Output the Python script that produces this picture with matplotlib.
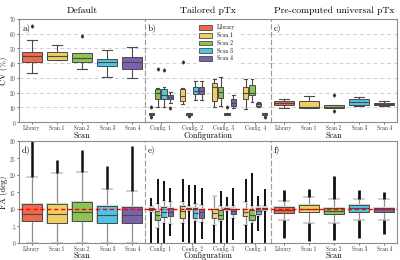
import matplotlib
matplotlib.use("Agg")
import matplotlib.pyplot as plt
import matplotlib.patheffects as pe
from matplotlib.patches import Patch

plt.rcParams['font.family'] = ['cmr10', 'DejaVu Serif']
plt.rcParams['axes.formatter.use_mathtext'] = True
plt.rcParams['mathtext.fontset'] = 'cm'

# ---------------- categories ----------------
scans = ["Library", "Scan 1", "Scan 2", "Scan 3", "Scan 4"]
configs = ["Config. 1", "Config. 2", "Config. 3", "Config. 4"]
colors = ["#EE6A4A", "#EFCF63", "#8DC255", "#4FC3E4", "#7B62AE"]
titles = ["Default", "Tailored pTx", "Pre-computed universal pTx"]

# ---------------- a) CV, default ----------------
cv_def_q1 = [41.0, 42.4, 40.8, 37.9, 36.1]
cv_def_med = [44.6, 45.0, 43.3, 40.5, 41.0]
cv_def_q3 = [47.6, 47.6, 46.6, 42.9, 44.2]
cv_def_lo = [33.0, 42.0, 36.3, 30.5, 29.8]
cv_def_hi = [55.4, 52.0, 47.0, 48.9, 50.9]
cv_def_fliers = [[65.3], [], [58.5], [], []]

# ---------------- b) CV, tailored (rows: config, cols: scan 1..4) ----------------
cv_tail_q1 = [[5.0, 15.9, 15.9, 15.5], [14.1, 5.0, 18.8, 18.8],
              [14.1, 16.1, 5.0, 10.8], [15.9, 18.4, 10.8, 5.0]]
cv_tail_med = [[5.5, 19.5, 18.6, 16.8], [17.7, 5.5, 21.3, 21.3],
               [24.0, 20.4, 5.3, 13.2], [19.5, 20.0, 11.9, 5.5]]
cv_tail_q3 = [[6.0, 22.2, 22.2, 18.2], [22.2, 6.0, 23.5, 23.5],
              [26.2, 24.0, 5.8, 15.9], [24.0, 24.9, 13.0, 6.0]]
cv_tail_lo = [[4.8, 10.5, 9.9, 13.2], [12.1, 4.8, 15.0, 15.0],
              [10.5, 11.0, 4.8, 9.4], [8.7, 13.7, 10.3, 4.8]]
cv_tail_hi = [[6.3, 23.0, 23.5, 20.6], [22.9, 6.3, 28.0, 28.1],
              [29.4, 30.5, 6.0, 18.2], [29.0, 29.0, 13.5, 6.3]]
cv_tail_fliers = [[[3.6, 10.3], [36.1], [35.2], [9.6]],
                  [[40.6], [3.8], [], []],
                  [[], [], [10.5], []],
                  [[], [], [], [3.2]]]

# ---------------- c) CV, universal ----------------
cv_uni_q1 = [11.4, 9.8, 9.6, 11.4, 11.4]
cv_uni_med = [13.0, 10.1, 10.5, 13.7, 12.3]
cv_uni_q3 = [14.3, 14.6, 11.4, 15.9, 13.0]
cv_uni_lo = [9.4, 9.6, 9.2, 11.0, 11.0]
cv_uni_hi = [15.9, 18.0, 11.6, 17.3, 14.1]
cv_uni_fliers = [[], [], [18.4, 7.6], [], []]

# ---------------- d) FA, default ----------------
fa_def_q1 = [6.4, 5.8, 6.4, 5.9, 5.9]
fa_def_med = [8.6, 8.4, 9.1, 8.3, 8.3]
fa_def_q3 = [11.5, 11.5, 12.1, 10.9, 10.6]
fa_def_lo = [0.0, 0.0, 0.0, 0.0, 0.0]
fa_def_hi = [19.4, 20.6, 20.8, 16.0, 15.3]
fa_def_min = [0.0, 0.0, 0.0, 0.0, 0.0]
fa_def_max = [31.0, 24.5, 27.4, 22.6, 28.6]

# ---------------- e) FA, tailored (rows: config, cols: scan 1..4) ----------------
fa_tail_q1 = [[9.7, 6.8, 7.7, 7.8], [7.3, 9.9, 7.5, 7.3],
              [7.3, 7.0, 9.9, 8.5], [7.8, 6.8, 8.5, 9.9]]
fa_tail_med = [[10.1, 8.1, 9.0, 9.0], [9.4, 10.1, 8.7, 9.2],
               [8.7, 8.2, 10.1, 9.4], [9.2, 8.1, 9.4, 10.1]]
fa_tail_q3 = [[10.4, 9.4, 10.5, 10.3], [10.8, 10.3, 10.4, 9.9],
              [9.9, 9.7, 10.3, 9.9], [10.1, 9.7, 10.3, 10.3]]
fa_tail_lo = [[9.0, 4.5, 5.9, 5.6], [5.9, 9.4, 6.4, 6.1],
              [5.4, 6.4, 9.4, 7.3], [5.4, 5.9, 7.8, 9.4]]
fa_tail_hi = [[11.0, 11.5, 12.5, 12.0], [12.0, 10.9, 11.6, 11.1],
              [13.9, 11.0, 10.9, 11.0], [12.0, 11.0, 11.0, 10.9]]
fa_tail_min = [[0.0, 0.0, 0.0, 2.1], [0.2, 0.0, 0.0, 1.1],
               [0.0, 0.0, 0.0, 0.9], [0.0, 0.0, 3.5, 0.0]]
fa_tail_max = [[13.2, 18.7, 18.2, 16.3], [18.9, 17.2, 17.2, 16.3],
               [13.9, 15.3, 13.5, 16.3], [18.7, 20.5, 13.9, 15.9]]

# ---------------- f) FA, universal ----------------
fa_uni_q1 = [8.7, 9.0, 8.4, 9.2, 9.0]
fa_uni_med = [9.7, 10.1, 9.4, 10.3, 9.9]
fa_uni_q3 = [10.6, 11.3, 10.3, 11.1, 10.4]
fa_uni_lo = [6.8, 5.9, 5.9, 6.8, 6.8]
fa_uni_hi = [12.5, 13.5, 13.0, 13.0, 13.0]
fa_uni_min = [1.6, 0.7, 0.9, 1.6, 2.6]
fa_uni_max = [15.6, 16.0, 19.6, 15.5, 15.0]

target_fa = 10.0

# ---------------- figure ----------------
fig = plt.figure(figsize=(4.0, 2.6), dpi=100)
L, R = 19 / 400, 397 / 400
W = (R - L) / 3
TOP_Y0, TOP_Y1 = 19, 122
BOT_Y0, BOT_Y1 = 141, 243
top_row = (1 - TOP_Y1 / 260, (TOP_Y1 - TOP_Y0) / 260)
bot_row = (1 - BOT_Y1 / 260, (BOT_Y1 - BOT_Y0) / 260)

axes = [[None] * 3, [None] * 3]
for r, (b, h) in enumerate([top_row, bot_row]):
    for c in range(3):
        axes[r][c] = fig.add_axes([L + c * W, b, W, h])

EDGE = "#4a4a4a"
SP = "#8c8c8c"


def box_stats(q1, med, q3, lo, hi, fl=None):
    out = []
    for i in range(len(q1)):
        out.append(dict(q1=q1[i], med=med[i], q3=q3[i], whislo=lo[i], whishi=hi[i],
                        fliers=(fl[i] if fl is not None else [])))
    return out


def draw(ax, stats, pos, cols, width, bottom=False):
    halo = [pe.Stroke(linewidth=1.6, foreground="#d4d4d4"), pe.Normal()] if bottom else None
    res = ax.bxp(stats, positions=pos, widths=width, patch_artist=True,
                 boxprops=dict(edgecolor=EDGE, linewidth=0.7, zorder=3),
                 medianprops=dict(color=EDGE, linewidth=0.8, zorder=4),
                 whiskerprops=dict(color=("#8f8f8f" if bottom else EDGE),
                                   linewidth=(0.9 if bottom else 0.8), zorder=2),
                 capprops=dict(color=("#cccccc" if bottom else EDGE),
                               linewidth=(1.3 if bottom else 0.8), zorder=2),
                 flierprops=dict(marker="d", markersize=1.6, markerfacecolor="#333333",
                                 markeredgecolor="#333333", linestyle="none"),
                 showfliers=True, manage_ticks=False)
    for patch, col in zip(res["boxes"], cols):
        patch.set_facecolor(col)
        if halo:
            patch.set_path_effects(halo)
    return res


# --- top row ---
xs5 = list(range(len(scans)))
draw(axes[0][0], box_stats(cv_def_q1, cv_def_med, cv_def_q3, cv_def_lo, cv_def_hi, cv_def_fliers),
     xs5, colors, 0.8)
draw(axes[0][2], box_stats(cv_uni_q1, cv_uni_med, cv_uni_q3, cv_uni_lo, cv_uni_hi, cv_uni_fliers),
     xs5, colors, 0.8)

offsets = [-0.3, -0.1, 0.1, 0.3]
for s in range(4):
    pos = [ci + offsets[s] for ci in range(len(configs))]
    col_s = [colors[s + 1]] * len(configs)
    st = box_stats([cv_tail_q1[c][s] for c in range(4)], [cv_tail_med[c][s] for c in range(4)],
                   [cv_tail_q3[c][s] for c in range(4)], [cv_tail_lo[c][s] for c in range(4)],
                   [cv_tail_hi[c][s] for c in range(4)], [cv_tail_fliers[c][s] for c in range(4)])
    draw(axes[0][1], st, pos, col_s, 0.17)

# --- bottom row ---
draw(axes[1][0], box_stats(fa_def_q1, fa_def_med, fa_def_q3, fa_def_lo, fa_def_hi), xs5, colors, 0.8, True)
axes[1][0].vlines(xs5, fa_def_hi, fa_def_max, color="#111111", lw=1.8, zorder=2.5)
draw(axes[1][2], box_stats(fa_uni_q1, fa_uni_med, fa_uni_q3, fa_uni_lo, fa_uni_hi), xs5, colors, 0.8, True)
axes[1][2].vlines(xs5, fa_uni_hi, fa_uni_max, color="#111111", lw=2.0, zorder=2.5)
axes[1][2].vlines(xs5, fa_uni_min, fa_uni_lo, color="#111111", lw=2.0, zorder=2.5)

for s in range(4):
    pos = [ci + offsets[s] for ci in range(len(configs))]
    col_s = [colors[s + 1]] * len(configs)
    g = lambda arr: [arr[c][s] for c in range(4)]
    st = box_stats(g(fa_tail_q1), g(fa_tail_med), g(fa_tail_q3), g(fa_tail_lo), g(fa_tail_hi))
    draw(axes[1][1], st, pos, col_s, 0.17, True)
    axes[1][1].vlines(pos, g(fa_tail_hi), g(fa_tail_max), color="#111111", lw=1.4, zorder=2.5)
    axes[1][1].vlines(pos, g(fa_tail_min), g(fa_tail_lo), color="#111111", lw=1.4, zorder=2.5)

# --- styling ---
labels = [["a)", "b)", "c)"], ["d)", "e)", "f)"]]
for r in range(2):
    for c in range(3):
        ax = axes[r][c]
        if c == 1:
            ax.set_xlim(-0.5, len(configs) - 0.5)
            ax.set_xticks(range(len(configs)))
            ax.set_xticklabels(configs)
            ax.set_xlabel("Configuration", fontsize=5.8, va="bottom")
        else:
            ax.set_xlim(-0.5, len(scans) - 0.5)
            ax.set_xticks(xs5)
            ax.set_xticklabels(scans)
            ax.set_xlabel("Scan", fontsize=5.8, va="bottom")
        if r == 0:
            ax.xaxis.set_label_coords(0.5, -(139.8 - TOP_Y1) / (TOP_Y1 - TOP_Y0))
        else:
            ax.xaxis.set_label_coords(0.5, -(259.6 - BOT_Y1) / (BOT_Y1 - BOT_Y0))
        if r == 0:
            ax.set_ylim(0, 70)
            ax.set_yticks(range(0, 71, 10))
            for yv in range(10, 70, 10):
                ax.axhline(yv, color="#d0d0d0", lw=0.7, ls=(0, (4, 3)), zorder=0.5)
            ax.set_title(titles[c], fontsize=7, pad=4)
        else:
            ax.set_ylim(0, 30)
            ax.set_yticks(range(0, 31, 5))
            ax.axhline(target_fa, color="red", lw=1.0, ls=(0, (3, 2)), zorder=5)
        ax.tick_params(axis="both", labelsize=3.8, length=1.2, width=0.5, pad=0.8,
                       colors="#333333")
        if c != 0:
            ax.tick_params(axis="y", labelleft=False, length=0)
        for sp in ax.spines.values():
            sp.set_color(SP)
            sp.set_linewidth(0.8)
        if c < 2:
            ax.spines["right"].set_visible(False)
        if c > 0:
            ax.spines["left"].set_linestyle((0, (4, 3)))
            ax.spines["left"].set_color("#9a9a9a")
        ax.text(0.025, 0.96, labels[r][c], transform=ax.transAxes, fontsize=6.5,
                va="top", ha="left", zorder=6)

axes[0][0].set_ylabel("CV (%)", fontsize=6.0)
axes[1][0].set_ylabel("FA (deg)", fontsize=6.0)
axes[0][0].yaxis.set_label_coords(-0.09, 0.5)
axes[1][0].yaxis.set_label_coords(-0.09, 0.5)

handles = [Patch(facecolor=colors[i], edgecolor=EDGE, linewidth=0.6, label=scans[i])
           for i in range(len(scans))]
axes[0][1].legend(handles=handles, loc="upper center", fontsize=4.0, frameon=True,
                  framealpha=1, edgecolor="white", handlelength=2.4, handleheight=0.9,
                  labelspacing=0.35, borderpad=0.3, bbox_to_anchor=(0.57, 0.99))

fig.savefig("out.png", dpi=100)
